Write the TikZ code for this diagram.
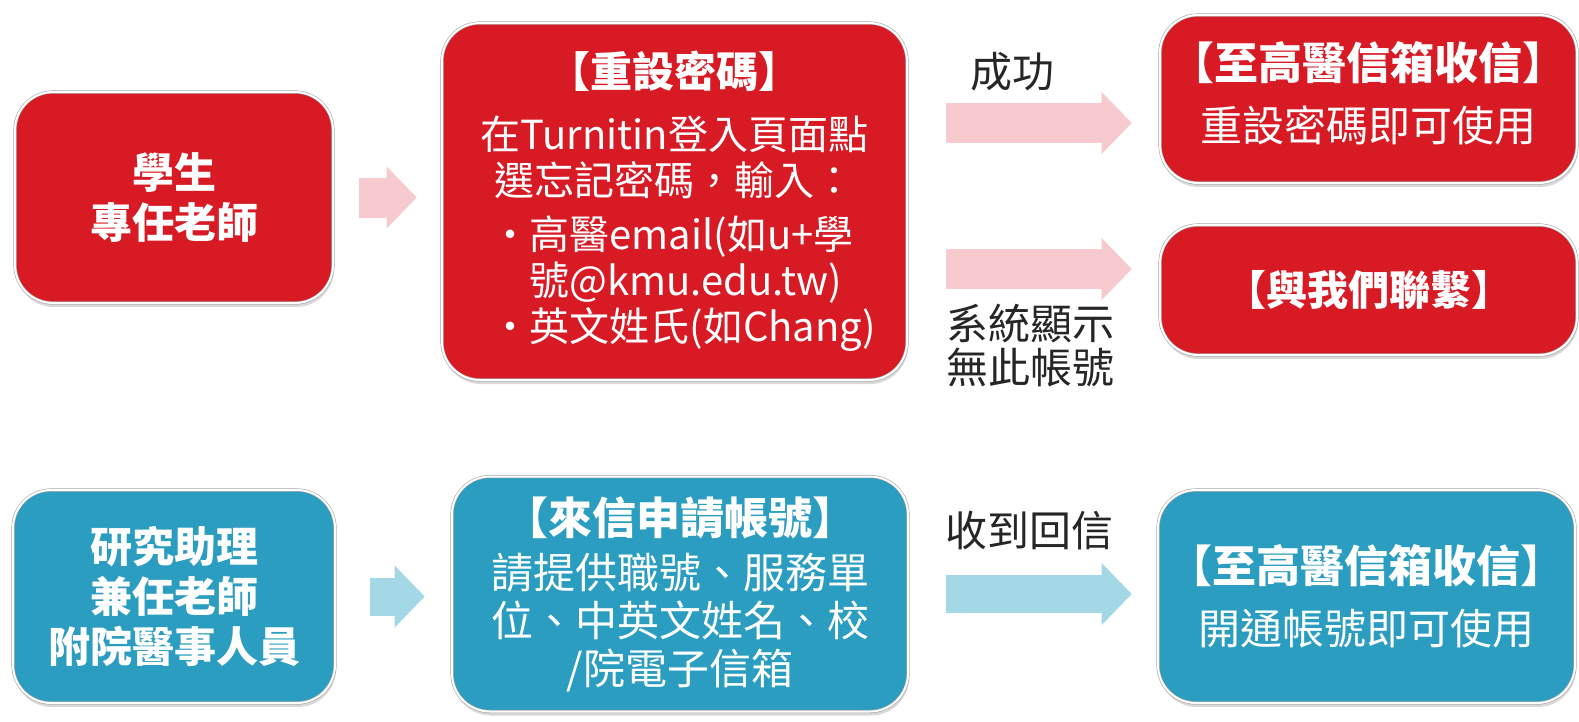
\documentclass[tikz,border=0pt]{standalone}
\usepackage{fontspec}
\setmainfont{Noto Sans CJK TC}
\usepackage{tikz}
\usetikzlibrary{arrows.meta,shadows,positioning}

\definecolor{boxred}{RGB}{215,26,36}
\definecolor{boxblue}{RGB}{42,157,192}
\definecolor{arrowpink}{RGB}{246,202,206}
\definecolor{arrowblue}{RGB}{165,216,231}

\begin{document}
\begin{tikzpicture}[x=1pt,y=-1pt,
font=\fontsize{42}{50}\selectfont]

\tikzstyle{box}=[rectangle,rounded corners=38pt,draw=black!35,double=white,
  double distance=2pt,line width=.6pt,text=white,align=center,inner sep=0pt,
  drop shadow={shadow xshift=1pt,shadow yshift=-4pt,opacity=.3}]
\tikzstyle{redbox}=[box,fill=boxred]
\tikzstyle{bluebox}=[box,fill=boxblue]
\tikzstyle{lbl}=[text=black!85,align=center,inner sep=0pt,
  font=\fontsize{42}{44}\selectfont]
\tikzstyle{fat}=[line width=40pt,-{Triangle[length=30pt,width=62pt,line width=0pt 0 0]}]

\useasboundingbox (0,0) rectangle (1579,721);

% top row
\node[redbox,minimum width=318pt,minimum height=211pt,
  font=\fontsize{42}{50}\selectfont\bfseries] (A) at (174,197.5) {學生\\專任老師};
\node[redbox,minimum width=465pt,minimum height=357pt,text width=460pt,
  align=left,font=\fontsize{40}{46}\selectfont] (B) at (674.5,201.5)
  {{\centering\bfseries\fontsize{42}{46}\selectfont 【重設密碼】\par}
   \vspace{16pt}
   {\centering 在Turnitin登入頁面點\\選忘記密碼，輸入：\par}
   \vspace{8pt}
   \mbox{\hspace*{47pt}\makebox[38pt]{•}高醫email(如u+學}\\
   \mbox{\hspace*{85pt}號@kmu.edu.tw)}\\
   \mbox{\hspace*{47pt}\makebox[38pt]{•}英文姓氏(如Chang)}};
\node[redbox,minimum width=417pt,minimum height=168pt] (C) at (1368.5,99)
  {{\bfseries\fontsize{44}{50}\selectfont 【至高醫信箱收信】}\\[12pt]
   重設密碼即可使用\rule[-16pt]{0pt}{0pt}};
\node[redbox,minimum width=417pt,minimum height=130pt,
  font=\fontsize{41}{46}\selectfont\bfseries] (D) at (1368.5,290)
  {【與我們聯繫】};

% bottom row
\node[bluebox,minimum width=322pt,minimum height=213pt,
  font=\fontsize{42}{50}\selectfont\bfseries] (E) at (174,596.5)
  {研究助理\\兼任老師\\附院醫事人員};
\node[bluebox,minimum width=456pt,minimum height=235pt,
  font=\fontsize{42}{48}\selectfont] (F) at (680,594)
  {{\bfseries\fontsize{44}{50}\selectfont 【來信申請帳號】}\\[6pt]
   請提供職號、服務單\\位、中英文姓名、校\\/院電子信箱};
\node[bluebox,minimum width=417pt,minimum height=213pt] (G) at (1366.5,596.5)
  {{\bfseries\fontsize{44}{50}\selectfont 【至高醫信箱收信】}\\[12pt]
   開通帳號即可使用};

% arrows
\coordinate (okend) at ([yshift=-24pt]C.west);
\coordinate (failend) at ([yshift=21pt]D.west);
\draw[fat,arrowpink,shorten <=26pt,shorten >=25pt] (A.east) -- (A.east -| B.west);
\draw[fat,arrowpink,shorten <=39pt,shorten >=28pt] (B.east |- okend) -- (okend);
\draw[fat,arrowpink,shorten <=39pt,shorten >=28pt] (B.east |- failend) -- (failend);
\draw[fat,arrowblue,line width=38pt,shorten <=35pt,shorten >=27pt] (E.east) -- (E.east -| F.west);
\draw[fat,arrowblue,line width=38pt,shorten <=38pt,shorten >=26pt] (F.east) -- (F.east -| G.west);

\node[lbl] (ok) at (1012,72) {成功};
\node[lbl] (fail) at (1030,346) {系統顯示\\無此帳號};
\node[lbl] (reply) at (1029,531) {收到回信};
\end{tikzpicture}
\end{document}
